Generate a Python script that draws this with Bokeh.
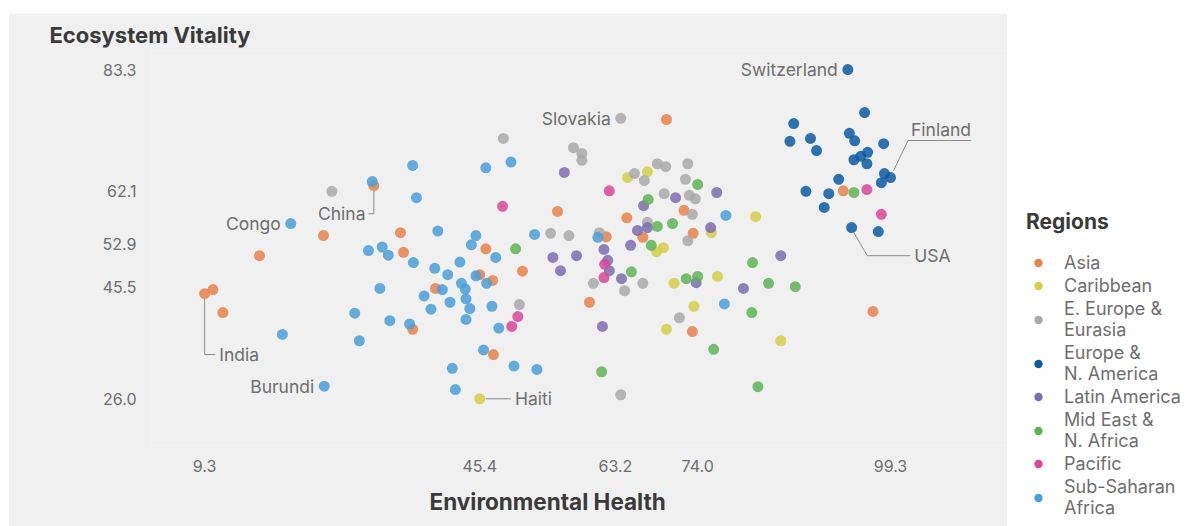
from bokeh.plotting import figure
from bokeh.models import (ColumnDataSource, Range1d, FixedTicker, PrintfTickFormatter,
                          Title, Legend, LegendItem, Spacer)
from bokeh.layouts import row, column
from bokeh.embed import file_html
from bokeh.resources import INLINE
from bokeh.core.properties import value

FONT = "Inter"

# ---------------- data (Environmental Health, Ecosystem Vitality) ----------------
regions = ["Asia", "Caribbean", "E. Europe &\nEurasia", "Europe &\nN. America",
           "Latin America", "Mid East &\nN. Africa", "Pacific", "Sub-Saharan\nAfrica"]
colors = ["#E8834B", "#D5CE48", "#A9A9A9", "#0B5AA2",
          "#7C6DB0", "#5DB456", "#D9479A", "#4A9FD8"]

asia_eh = [31.5, 24.9, 35.0, 16.5, 35.4, 9.3, 10.4, 11.7, 39.6, 36.6, 45.4, 47.1, 46.2,
           51.0, 47.2, 55.6, 64.7, 69.9, 62.0, 66.8, 72.2, 73.4, 59.8, 73.3, 93.1, 97.0]
asia_ev = [63.1, 54.4, 54.9, 50.9, 51.5, 44.3, 45.0, 41.0, 45.2, 38.1, 47.6, 46.6, 52.1,
           48.2, 33.7, 58.6, 57.5, 74.6, 54.2, 54.1, 58.8, 54.8, 42.8, 37.7, 62.2, 41.2]

car_eh = [45.4, 67.4, 64.8, 68.6, 69.5, 75.8, 81.6, 70.9, 76.6, 73.5, 69.9, 84.9]
car_ev = [26.0, 65.5, 64.5, 51.6, 52.3, 54.9, 57.7, 46.1, 47.3, 42.1, 38.1, 36.1]

eee_eh = [63.9, 26.0, 48.5, 57.7, 58.8, 58.8, 68.7, 69.8, 72.7, 65.7, 67.0, 72.4, 69.6, 72.9,
          73.7, 73.3, 67.4, 72.7, 61.1, 54.7, 57.1, 50.6, 60.3, 64.4, 66.8, 71.6, 63.9]
eee_ev = [74.8, 62.1, 71.3, 69.7, 68.7, 67.5, 66.9, 66.4, 66.9, 65.2, 64.0, 64.2, 61.7, 61.4,
          60.8, 58.1, 56.7, 53.5, 54.9, 54.8, 54.4, 42.4, 46.1, 44.8, 46.1, 40.1, 26.7]

ena_eh = [93.7, 95.9, 86.6, 86.1, 88.8, 89.6, 93.9, 94.6, 98.4, 96.3, 95.4, 94.5, 96.2, 99.3,
          98.5, 98.1, 92.5, 88.2, 91.2, 90.6, 94.2, 97.7]
ena_ev = [83.3, 75.8, 73.9, 70.8, 71.3, 69.2, 72.2, 70.9, 70.4, 68.9, 68.2, 67.6, 66.9, 64.5,
          65.2, 63.6, 64.2, 62.1, 61.7, 59.3, 55.8, 55.1]

lat_eh = [56.5, 71.1, 76.5, 66.9, 67.4, 75.7, 66.1, 65.2, 55.0, 58.1, 56.0, 61.7, 62.2, 62.4,
          64.0, 61.5, 73.8, 84.9, 80.0]
lat_ev = [65.4, 61.0, 61.9, 59.6, 55.8, 55.8, 55.3, 52.7, 50.6, 50.9, 48.3, 52.0, 50.1, 48.3,
          46.9, 38.6, 46.2, 50.9, 45.2]

mena_eh = [74.0, 67.5, 68.7, 70.7, 67.9, 50.1, 65.3, 72.5, 74.0, 81.2, 83.3, 86.8, 81.1, 76.1,
           61.4, 81.9, 94.5]
mena_ev = [63.3, 60.7, 56.0, 56.5, 52.7, 52.1, 48.1, 46.9, 47.3, 49.7, 46.1, 45.5, 41.0, 34.6,
           30.7, 28.1, 61.9]

pac_eh = [62.4, 48.4, 61.8, 61.7, 50.4, 49.6, 96.2, 98.1]
pac_ev = [62.2, 59.5, 49.4, 47.1, 40.3, 38.6, 62.4, 58.1]

ssa_eh = [20.6, 31.3, 36.6, 37.1, 39.9, 30.8, 32.6, 33.4, 36.7, 39.5, 41.2, 42.8, 32.3, 40.5,
          29.0, 33.6, 36.2, 19.5, 29.6, 25.0, 38.1, 41.5, 39.0, 43.0, 43.5, 43.6, 44.1, 43.6,
          41.8, 42.2, 44.9, 46.3, 44.9, 44.3, 47.5, 47.0, 47.9, 45.9, 49.9, 52.9, 46.2, 49.5,
          52.6, 60.9, 77.7, 77.5]
ssa_ev = [56.5, 63.8, 66.6, 61.0, 55.2, 51.8, 52.4, 51.0, 49.7, 48.7, 47.6, 49.8, 45.2, 45.0,
          40.9, 39.6, 39.0, 37.2, 36.1, 28.2, 43.9, 42.8, 41.6, 46.1, 45.1, 43.4, 41.7, 39.8,
          31.3, 27.6, 47.4, 46.1, 54.4, 52.8, 50.6, 42.1, 38.3, 34.5, 31.7, 31.1, 66.2, 67.2,
          54.6, 54.1, 57.9, 42.5]

series_eh = [asia_eh, car_eh, eee_eh, ena_eh, lat_eh, mena_eh, pac_eh, ssa_eh]
series_ev = [asia_ev, car_ev, eee_ev, ena_ev, lat_ev, mena_ev, pac_ev, ssa_ev]

x_ticks = [9.3, 45.4, 63.2, 74.0, 99.3]
y_ticks = [26.0, 45.5, 52.9, 62.1, 83.3]

# labelled countries placed to the left of their dot
left_names = ["Switzerland", "Slovakia", "Congo", "Burundi"]
left_eh = [93.7, 63.9, 20.6, 25.0]
left_ev = [83.3, 74.8, 56.5, 28.2]

# leader-line annotations
china_xs, china_ys = [31.5, 31.5, 30.8], [62.2, 58.2, 58.2]
india_xs, india_ys = [9.3, 9.3, 10.7], [43.4, 33.7, 33.7]
haiti_xs, haiti_ys = [46.2, 49.5], [26.0, 26.0]
fin_xs, fin_ys = [99.7, 101.6, 109.9], [65.7, 70.95, 70.95]
usa_xs, usa_ys = [94.5, 96.25, 101.9], [54.9, 50.9, 50.9]

BG = "#f0f0f0"
TXT = "#6e6e6e"
DARK = "#3a3a3a"

p = figure(width=999, height=513, x_range=Range1d(2.2, 114.65), y_range=Range1d(17.87, 86.61),
           toolbar_location=None, output_backend="svg",
           min_border_left=142, min_border_right=0, min_border_top=37, min_border_bottom=81,
           background_fill_color=BG, border_fill_color=BG, outline_line_color=None)

p.title.text = "Ecosystem Vitality"
p.title.align = "left"
p.title.offset = -101
p.title.standoff = 6
p.title.text_font = FONT
p.title.text_font_size = "22px"
p.title.text_font_style = "bold"
p.title.text_color = DARK

p.add_layout(Title(text="Environmental Health", align="left", offset=279, standoff=22,
                   text_font=FONT, text_font_size="22.5px", text_font_style="bold",
                   text_color=DARK), "below")

p.grid.visible = False
for ax in (p.xaxis[0], p.yaxis[0]):
    ax.axis_line_color = None
    ax.major_tick_line_color = None
    ax.minor_tick_line_color = None
    ax.major_label_text_font = FONT
    ax.major_label_text_font_size = "16px"
    ax.major_label_text_color = TXT
    ax.formatter = PrintfTickFormatter(format="%.1f")
p.xaxis.ticker = FixedTicker(ticks=x_ticks)
p.yaxis.ticker = FixedTicker(ticks=y_ticks)
p.xaxis.major_label_standoff = 8
p.yaxis.major_label_standoff = 8

LINE = "#8c8c8c"
for xs, ys in [(china_xs, china_ys), (india_xs, india_ys), (haiti_xs, haiti_ys),
               (fin_xs, fin_ys), (usa_xs, usa_ys)]:
    p.line(xs, ys, line_color=LINE, line_width=1)

for eh, ev, c in zip(series_eh, series_ev, colors):
    src = ColumnDataSource(dict(eh=eh, ev=ev))
    p.scatter("eh", "ev", source=src, size=11, fill_color=c, fill_alpha=0.85, line_color=None)

tstyle = dict(text_font=value(FONT), text_font_size="17.5px", text_color=TXT)
p.text(x=left_eh, y=left_ev, text=left_names, text_align="right", text_baseline="middle",
       x_offset=-10, **tstyle)
p.text(x=[china_xs[-1]], y=[china_ys[-1]], text=["China"], text_align="right",
       text_baseline="middle", x_offset=-3, **tstyle)
p.text(x=[india_xs[-1], haiti_xs[-1], usa_xs[-1]], y=[india_ys[-1], haiti_ys[-1], usa_ys[-1]],
       text=["India", "Haiti", "USA"], text_align="left", text_baseline="middle",
       x_offset=4, **tstyle)
p.text(x=[fin_xs[1]], y=[fin_ys[1]], text=["Finland"], text_align="left",
       text_baseline="bottom", x_offset=3, y_offset=0, **tstyle)

# ---------------- legend panel ----------------
lg = figure(width=178, height=526, x_range=Range1d(0, 1), y_range=Range1d(0, 1),
            toolbar_location=None, output_backend="svg",
            x_axis_location=None, y_axis_location=None,
            min_border_left=19, min_border_right=0, min_border_top=209, min_border_bottom=0,
            background_fill_color="white", border_fill_color="white", outline_line_color=None)
lg.grid.visible = False
items = []
nan = float("nan")
for name, c in zip(regions, colors):
    r = lg.scatter(x=[nan], y=[nan], size=10, fill_color=c, line_color=None)
    items.append(LegendItem(label=name, renderers=[r]))
leg = Legend(items=items, location="top_left", title="Regions",
             title_text_font=FONT, title_text_font_size="21px", title_text_font_style="bold",
             title_text_color=DARK, title_standoff=18,
             label_text_font=FONT, label_text_font_size="18px", label_text_color=TXT,
             label_height=21, glyph_width=24, glyph_height=21, label_standoff=14,
             spacing=2, padding=0, margin=0, border_line_color=None,
             background_fill_alpha=0)
lg.add_layout(leg)

layout = row(Spacer(width=8, height=526), column(Spacer(width=999, height=13), p), lg)
open("out.html", "w").write(file_html(layout, INLINE))
